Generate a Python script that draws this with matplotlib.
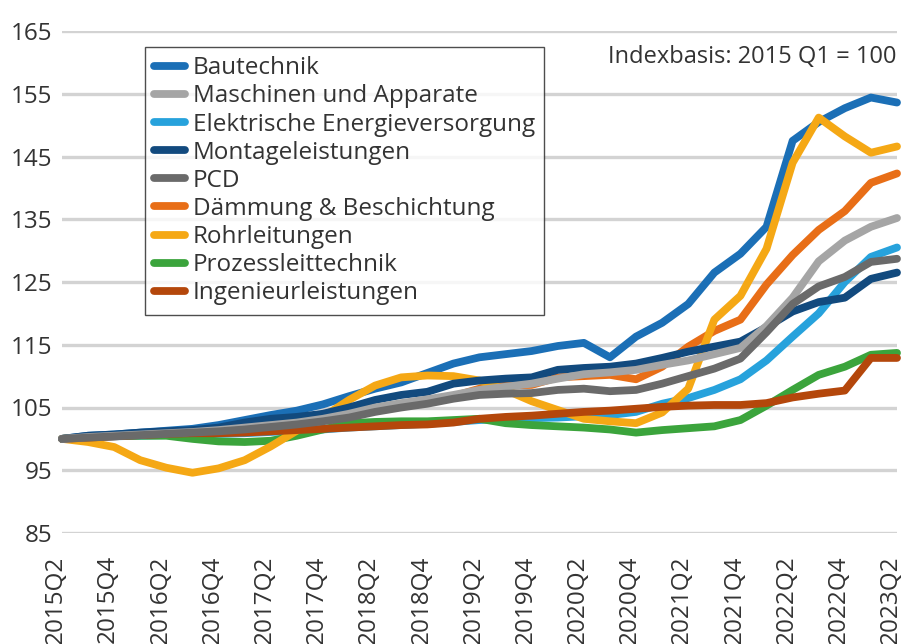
import matplotlib
matplotlib.use('Agg')
import matplotlib.pyplot as plt
import matplotlib.transforms as mtransforms

quarters = ['2015Q2', '2015Q3', '2015Q4', '2016Q1', '2016Q2', '2016Q3', '2016Q4', '2017Q1',
            '2017Q2', '2017Q3', '2017Q4', '2018Q1', '2018Q2', '2018Q3', '2018Q4', '2019Q1',
            '2019Q2', '2019Q3', '2019Q4', '2020Q1', '2020Q2', '2020Q3', '2020Q4', '2021Q1',
            '2021Q2', '2021Q3', '2021Q4', '2022Q1', '2022Q2', '2022Q3', '2022Q4', '2023Q1',
            '2023Q2']

# index values (2015 Q1 = 100)
bautechnik = [100, 100.5, 100.7, 101, 101.3, 101.6, 102.2, 103, 103.8, 104.5, 105.5, 106.8,
              108, 109, 110.5, 112, 113, 113.5, 114, 114.8, 115.3, 113, 116.3, 118.5,
              121.5, 126.5, 129.5, 133.8, 147.5, 150.5, 152.7, 154.4, 153.6]
maschinen = [100, 100.3, 100.5, 100.7, 100.9, 101.1, 101.4, 101.8, 102.2, 102.6, 103.2, 104,
             105, 105.7, 106.3, 107, 107.8, 108.3, 108.8, 109.6, 110.3, 110.6, 111, 111.8,
             112.5, 113.5, 114.5, 118, 122.5, 128.3, 131.6, 133.8, 135.2]
elektrische = [100, 100.2, 100.4, 100.5, 100.6, 100.7, 100.8, 100.9, 101.1, 101.3, 101.5, 101.8,
               102, 102.2, 102.4, 102.7, 103, 103.2, 103.3, 103.4, 103.6, 103.8, 104.3, 105.6,
               106.5, 107.8, 109.5, 112.5, 116.3, 120, 125, 129, 130.5]
montage = [100, 100.5, 100.7, 101, 101.2, 101.4, 101.8, 102.6, 103.2, 103.5, 104, 105,
           106.2, 107, 107.5, 108.8, 109.3, 109.6, 109.8, 111, 111.3, 111.5, 112, 112.9,
           113.9, 114.7, 115.5, 117.8, 120.3, 121.8, 122.5, 125.5, 126.5]
pcd = [100, 100.2, 100.4, 100.6, 100.8, 101, 101.2, 101.5, 101.9, 102.3, 102.8, 103.4,
       104.3, 105, 105.6, 106.4, 107, 107.2, 107.3, 107.8, 108, 107.6, 107.8, 108.8,
       110, 111.2, 112.8, 117, 121.5, 124.3, 125.8, 128.2, 128.7]
daemmung = [100, 100.3, 100.5, 100.7, 100.9, 101.1, 101.3, 101.6, 102, 102.4, 102.9, 103.7,
            104.7, 105.4, 106.1, 106.8, 108, 108.5, 108.6, 109.8, 110, 110.2, 109.5, 111.5,
            114.7, 117.2, 119, 124.6, 129.3, 133.3, 136.3, 140.8, 142.3]
rohrleitungen = [100, 99.5, 98.7, 96.6, 95.4, 94.6, 95.3, 96.6, 98.8, 101.3, 103.5, 106.2,
                 108.5, 109.8, 110.1, 110, 109.3, 107.8, 106, 104.6, 103.2, 102.8, 102.5, 104.2,
                 108, 119, 122.8, 130.3, 144, 151.2, 148.2, 145.6, 146.6]
prozess = [100, 100.3, 100.5, 100.5, 100.5, 100, 99.6, 99.5, 99.7, 100.5, 101.5, 102.5,
           102.7, 102.8, 102.8, 103, 103.2, 102.5, 102.2, 102, 101.8, 101.5, 101, 101.4,
           101.7, 102, 103, 105.3, 107.8, 110.2, 111.5, 113.4, 113.7]
ingenieur = [100, 100.2, 100.4, 100.6, 100.8, 100.9, 100.9, 101, 101.2, 101.4, 101.6, 101.8,
             102, 102.2, 102.3, 102.6, 103.2, 103.5, 103.7, 104, 104.3, 104.5, 104.8, 105.1,
             105.3, 105.4, 105.4, 105.7, 106.6, 107.2, 107.7, 112.9, 112.9]

names = ['Bautechnik', 'Maschinen und Apparate', 'Elektrische Energieversorgung',
         'Montageleistungen', 'PCD', 'Dämmung & Beschichtung', 'Rohrleitungen',
         'Prozessleittechnik', 'Ingenieurleistungen']
series = [bautechnik, maschinen, elektrische, montage, pcd, daemmung, rohrleitungen,
          prozess, ingenieur]
colors = ['#1b6fb6', '#a5a5a5', '#27a2dc', '#124a7e', '#6a6a6a', '#e86e17', '#f5a815',
          '#3ba43c', '#b4470b']
# drawing order (PCD on top, Dämmung under the greys)
zorders = [2.1, 2.6, 2.2, 2.5, 2.9, 2.3, 2.4, 2.35, 2.45]

plt.rcParams['font.family'] = 'Open Sans'
text_color = '#333333'

fig = plt.figure(figsize=(9.04, 6.44), dpi=100)
ax = fig.add_axes([62 / 904, 1 - 533 / 644, 835 / 904, 502 / 644])

x = list(range(len(quarters)))
for name, vals, col, z in zip(names, series, colors, zorders):
    ax.plot(x, vals, color=col, lw=5.6, label=name, solid_capstyle='round',
            solid_joinstyle='round', clip_on=False, zorder=z)

ax.set_xlim(0, len(quarters) - 1)
ax.set_ylim(85, 165)
ax.set_yticks(range(85, 166, 10))
ax.set_xticks(x[::2])
ax.set_xticklabels(quarters[::2], rotation=90, va='top', ha='center')
ax.tick_params(axis='both', length=0, labelsize=17.5, colors=text_color)
ax.tick_params(axis='x', pad=16)
ax.tick_params(axis='y', pad=7)
ax.grid(axis='y', color='#d3d3d3', lw=2.4)
ax.set_axisbelow(True)
for s in ax.spines.values():
    s.set_visible(False)

# labels sit a little left of the points, as in the original
shift = mtransforms.ScaledTranslation(-6 / 100, 0, fig.dpi_scale_trans)
for lab in ax.get_xticklabels():
    lab.set_transform(lab.get_transform() + shift)

leg = ax.legend(loc='upper left', bbox_to_anchor=(0.099, 0.968), borderaxespad=0,
                fontsize=17.5, frameon=True, fancybox=False, handlelength=1.3,
                handletextpad=0.3, labelspacing=0.17, borderpad=0.38)
leg.get_frame().set_edgecolor('#222222')
leg.get_frame().set_linewidth(1.0)
leg.set_zorder(5)
for t in leg.get_texts():
    t.set_color(text_color)

ax.text(1.0, 0.948, 'Indexbasis: 2015 Q1 = 100', transform=ax.transAxes, ha='right',
        va='center', fontsize=17, color=text_color)

fig.savefig('out.png', dpi=100)
